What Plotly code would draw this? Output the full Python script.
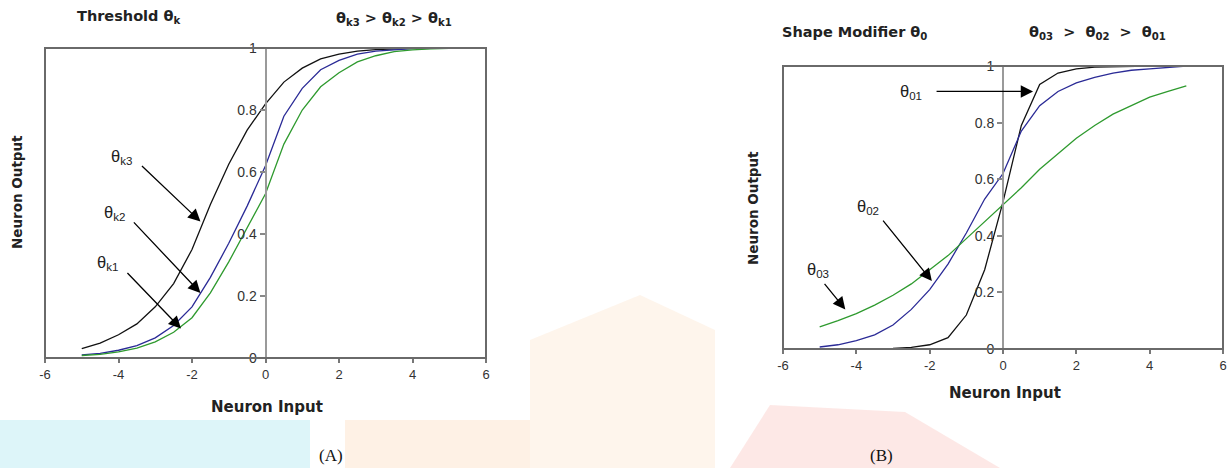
import plotly.graph_objects as go

W, H = 1231, 468

# ---- data ----
x_in = [-5, -4.5, -4, -3.5, -3, -2.5, -2, -1.5, -1, -0.5, 0, 0.5, 1, 1.5, 2, 2.5, 3, 3.5, 4, 4.5, 5]

# Panel A: threshold
theta_k3 = [0.03, 0.048, 0.075, 0.11, 0.165, 0.24, 0.35, 0.495, 0.625, 0.735, 0.82, 0.89, 0.935, 0.965, 0.98, 0.99, 0.995, 0.998, 0.999, 1.0, 1.0]
theta_k2 = [0.01, 0.015, 0.025, 0.04, 0.065, 0.105, 0.165, 0.26, 0.37, 0.49, 0.62, 0.78, 0.87, 0.93, 0.96, 0.98, 0.99, 0.995, 0.998, 0.999, 1.0]
theta_k1 = [0.008, 0.012, 0.02, 0.032, 0.052, 0.083, 0.13, 0.21, 0.31, 0.42, 0.53, 0.69, 0.80, 0.875, 0.92, 0.955, 0.975, 0.988, 0.994, 0.997, 0.999]

# Panel B: shape modifier
theta_01 = [0.0, 0.0, 0.0, 0.001, 0.002, 0.006, 0.015, 0.04, 0.12, 0.28, 0.52, 0.79, 0.935, 0.975, 0.99, 0.996, 0.998, 1.0, 1.0, 1.0, 1.0]
theta_02 = [0.007, 0.015, 0.03, 0.05, 0.085, 0.14, 0.21, 0.30, 0.41, 0.53, 0.62, 0.77, 0.86, 0.91, 0.94, 0.96, 0.975, 0.985, 0.99, 0.995, 1.0]
theta_03 = [0.078, 0.10, 0.125, 0.155, 0.19, 0.23, 0.28, 0.33, 0.39, 0.45, 0.51, 0.57, 0.635, 0.69, 0.745, 0.79, 0.83, 0.86, 0.89, 0.91, 0.93]

x_ticks = [-6, -4, -2, 0, 2, 4, 6]
x_tick_text = ["-6", "-4", "-2", "0", "2", "4", "6"]
y_ticks = [0, 0.2, 0.4, 0.6, 0.8, 1]
y_tick_text = ["0", "0.2", "0.4", "0.6", "0.8", "1"]

BLACK, BLUE, GREEN = "#111111", "#2a2a96", "#2e9a2e"
FONT = "Liberation Sans, Arial, sans-serif"
WIDE = "DejaVu Sans, Liberation Sans, sans-serif"

def px(x):
    return x / W

def py(y):
    return 1 - y / H

fig = go.Figure()

for ys, c in [(theta_k3, BLACK), (theta_k2, BLUE), (theta_k1, GREEN)]:
    fig.add_trace(go.Scatter(x=x_in, y=ys, mode="lines", line=dict(color=c, width=1.3),
                             xaxis="x", yaxis="y", showlegend=False, hoverinfo="skip"))
for ys, c in [(theta_01, BLACK), (theta_02, BLUE), (theta_03, GREEN)]:
    fig.add_trace(go.Scatter(x=x_in, y=ys, mode="lines", line=dict(color=c, width=1.3),
                             xaxis="x2", yaxis="y2", showlegend=False, hoverinfo="skip"))

xdomA = [px(45), px(486)]
ydomA = [py(358), py(48)]
xdomB = [px(783), px(1223)]
ydomB = [py(349), py(66)]

xtickfont = dict(family=FONT, size=13, color="#333333")
ytickfont = dict(family=FONT, size=14, color="#333333")

def xaxis_cfg(dom, anchor):
    return dict(domain=dom, range=[-6, 6], anchor=anchor, tickmode="array", tickvals=x_ticks,
                ticktext=x_tick_text, ticks="outside", ticklen=4, tickcolor="#777777", tickwidth=1.5,
                showgrid=False, zeroline=False, showline=False, tickfont=xtickfont,
                fixedrange=True, automargin=False)

def yaxis_cfg(dom, pos):
    return dict(domain=dom, range=[0, 1], anchor="free", position=pos, tickmode="array",
                tickvals=y_ticks, ticktext=y_tick_text, ticks="outside", ticklen=5,
                tickcolor="#888888", tickwidth=1.5, showline=True, linecolor="#9a9a9a",
                linewidth=2, showgrid=False, zeroline=False, tickfont=ytickfont,
                fixedrange=True, automargin=False)

posA = xdomA[0] + (xdomA[1] - xdomA[0]) * 0.5
posB = xdomB[0] + (xdomB[1] - xdomB[0]) * 0.5

fig.update_layout(
    width=W, height=H, autosize=False,
    margin=dict(l=0, r=0, t=0, b=0, pad=0, autoexpand=False),
    paper_bgcolor="white", plot_bgcolor="rgba(0,0,0,0)",
    showlegend=False,
    xaxis=xaxis_cfg(xdomA, "y"),
    yaxis=yaxis_cfg(ydomA, posA),
    xaxis2=xaxis_cfg(xdomB, "y2"),
    yaxis2=yaxis_cfg(ydomB, posB),
)

shapes = [
    dict(type="rect", xref="paper", yref="paper", x0=px(0), x1=px(310), y0=py(468), y1=py(420),
         fillcolor="rgba(165,228,240,0.38)", line=dict(width=0), layer="below"),
    dict(type="path", xref="paper", yref="paper",
         path=f"M {px(530)},{py(468)} L {px(530)},{py(340)} L {px(640)},{py(295)} L {px(715)},{py(330)} L {px(715)},{py(468)} Z",
         fillcolor="rgba(250,205,160,0.2)", line=dict(width=0), layer="below"),
    dict(type="rect", xref="paper", yref="paper", x0=px(345), x1=px(530), y0=py(468), y1=py(420),
         fillcolor="rgba(252,210,170,0.3)", line=dict(width=0), layer="below"),
    dict(type="path", xref="paper", yref="paper",
         path=f"M {px(730)},{py(468)} L {px(770)},{py(405)} L {px(905)},{py(412)} L {px(1000)},{py(468)} Z",
         fillcolor="rgba(245,150,140,0.22)", line=dict(width=0), layer="below"),
]
for xr, yr in [("x domain", "y domain"), ("x2 domain", "y2 domain")]:
    shapes.append(dict(type="rect", xref=xr, yref=yr, x0=0, x1=1, y0=0, y1=1,
                       line=dict(color="#6a6a6a", width=2), fillcolor="rgba(0,0,0,0)", layer="above"))
fig.update_layout(shapes=shapes)

ann = []
bold = dict(family=WIDE, size=14.5, color="#222222")
def txt(x, y, t, font=bold, xanchor="center", angle=0):
    ann.append(dict(x=px(x), y=py(y), xref="paper", yref="paper", text=t, showarrow=False,
                    font=font, xanchor=xanchor, yanchor="middle", textangle=angle))

txt(75, 17, "<b>Threshold θ<sub>k</sub></b>", xanchor="left")
txt(334, 19, "<b>θ<sub>k3</sub> &gt; θ<sub>k2</sub> &gt; θ<sub>k1</sub></b>", xanchor="left")
txt(780, 33, "<b>Shape Modifier θ<sub>0</sub></b>", xanchor="left")
txt(1027, 33, "<b>θ<sub>03</sub>  &gt;  θ<sub>02</sub>  &gt;  θ<sub>01</sub></b>", xanchor="left")

txt(17, 192, "<b>Neuron Output</b>", font=dict(family=WIDE, size=13.5, color="#222222"), angle=-90)
txt(753, 208, "<b>Neuron Output</b>", font=dict(family=WIDE, size=13.5, color="#222222"), angle=-90)
txt(267, 407, "<b>Neuron Input</b>", font=dict(family=WIDE, size=15, color="#222222"))
txt(1005, 393, "<b>Neuron Input</b>", font=dict(family=WIDE, size=15, color="#222222"))

serif = dict(family="Liberation Serif, Times New Roman, serif", size=17, color="#111111")
txt(331, 455, "(A)", font=serif)
txt(881, 455, "(B)", font=serif)

lab = dict(family=FONT, size=16.5, color="#222222")
txt(121, 157, "θ<sub>k3</sub>", font=lab)
txt(114, 213, "θ<sub>k2</sub>", font=lab)
txt(108, 263, "θ<sub>k1</sub>", font=lab)
txt(911, 92, "θ<sub>01</sub>", font=lab)
txt(868, 207, "θ<sub>02</sub>", font=lab)
txt(818, 270, "θ<sub>03</sub>", font=lab)

def arrow(xr, yr, x, y, ax, ay):
    ann.append(dict(x=x, y=y, xref=xr, yref=yr, ax=ax, ay=ay, axref="pixel", ayref="pixel",
                    text="", showarrow=True, arrowhead=2, arrowsize=1.9, arrowwidth=1.3,
                    arrowcolor="#000000", standoff=0, startstandoff=0))

arrow("x", "y", -1.77, 0.44, -60, -57)
arrow("x", "y", -1.77, 0.21, -68, -72)
arrow("x", "y", -2.3, 0.095, -55, -57)
arrow("x2", "y2", 0.82, 0.91, -98, 0)
arrow("x2", "y2", -1.94, 0.24, -50, -62)
arrow("x2", "y2", -4.3, 0.14, -22, -27)

fig.update_layout(annotations=ann)
fig.write_html(
    "out.html",
    config={"displayModeBar": False, "responsive": False},
    post_script="document.documentElement.style.margin='0';document.body.style.margin='0';document.body.style.overflow='hidden';",
)
